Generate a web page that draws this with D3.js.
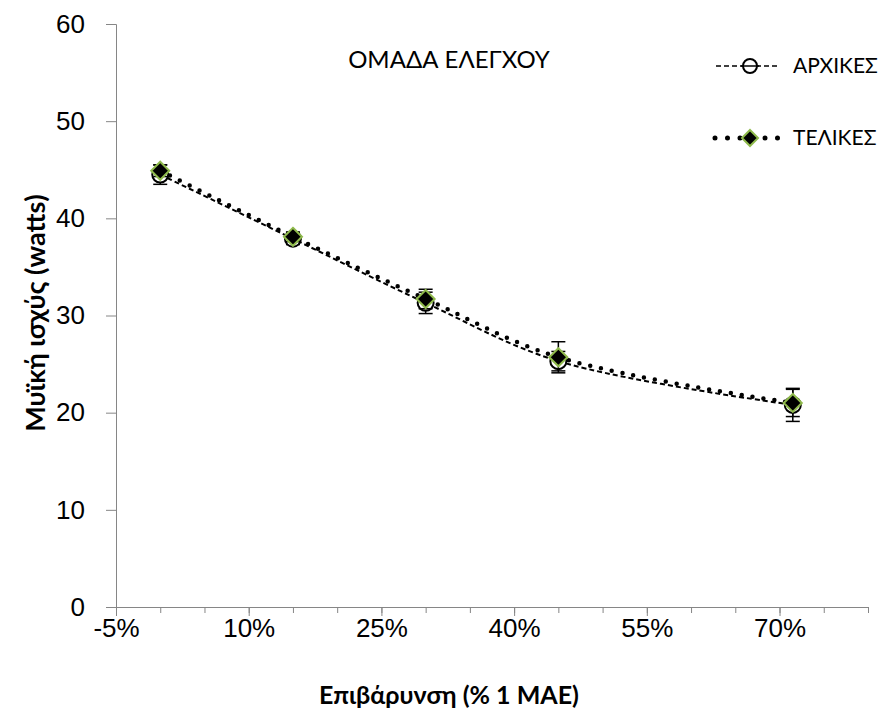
<!DOCTYPE html>
<html>
<head>
<meta charset="utf-8">
<script src="https://cdn.jsdelivr.net/npm/d3@7"></script>
<style>
  body { margin: 0; background: white; }
  svg { font-family: Lato, "Open Sans", sans-serif; }
</style>
</head>
<body>
<div id="chart"></div>
<script>
// δεδομένα (εκτίμηση από την εικόνα)
const loads = [0.00, 0.15, 0.30, 0.45, 0.715];
const initialPower = [44.5, 37.9, 31.3, 25.3, 20.8];
const initialSd = [1.0, 0.6, 1.1, 1.0, 1.7];
const finalPower = [44.9, 38.1, 31.7, 25.7, 21.0];
const finalSd = [0.6, 0.5, 1.0, 1.6, 1.4];
const xTicks = [-0.05, 0.10, 0.25, 0.40, 0.55, 0.70];
const yTicks = [0, 10, 20, 30, 40, 50, 60];
const seriesNames = ["ΑΡΧΙΚΕΣ", "ΤΕΛΙΚΕΣ"];

const W = 884, H = 715;
const svg = d3.select("#chart").append("svg").attr("width", W).attr("height", H);

const x = d3.scaleLinear().domain([-0.05, 0.80]).range([116, 868]);
const y = d3.scaleLinear().domain([0, 60]).range([607, 24]);

const axisColor = "#868686";

// Άξονας Y
const yAxis = svg.append("g").attr("transform", `translate(${x(-0.05)},0)`)
  .call(d3.axisLeft(y).tickValues(yTicks).tickSize(10).tickPadding(21));
yAxis.select(".domain").attr("stroke", axisColor);
yAxis.selectAll(".tick line").attr("stroke", axisColor);
yAxis.selectAll("text").attr("font-size", "26px").attr("fill", "#000");

// Άξονας X (μικρές υποδιαιρέσεις ανά 5%)
const minorTicks = d3.range(-0.05, 0.8001, 0.05);
const xAxisMinor = svg.append("g").attr("transform", `translate(0,${y(0)})`)
  .call(d3.axisBottom(x).tickValues(minorTicks).tickSize(6).tickFormat(""));
xAxisMinor.select(".domain").attr("stroke", axisColor);
xAxisMinor.selectAll(".tick line").attr("stroke", axisColor);
const xAxis = svg.append("g").attr("transform", `translate(0,${y(0)})`)
  .call(d3.axisBottom(x).tickValues(xTicks).tickSize(9).tickPadding(3))
xAxis.select(".domain").remove();
xAxis.selectAll(".tick line").attr("stroke", axisColor);
xAxis.selectAll("text").attr("font-size", "26px").attr("fill", "#000")
  .text(d => Math.round(d * 100) + "%");

// Τίτλοι αξόνων
svg.append("text")
  .attr("x", 449).attr("y", 704)
  .attr("text-anchor", "middle")
  .attr("font-size", "25px").attr("font-weight", "bold")
  .text("Επιβάρυνση (% 1 ΜΑΕ)");
svg.append("text")
  .attr("transform", "translate(45,313) rotate(-90)")
  .attr("text-anchor", "middle")
  .attr("font-size", "27px").attr("font-weight", "bold")
  .text("Μυϊκή ισχύς (watts)");

// Τίτλος
svg.append("text")
  .attr("x", 449).attr("y", 68)
  .attr("text-anchor", "middle")
  .attr("font-size", "24px")
  .text("ΟΜΑΔΑ ΕΛΕΓΧΟΥ");

const initData = loads.map((l, i) => ({ x: l, y: initialPower[i], sd: initialSd[i] }));
const finData = loads.map((l, i) => ({ x: l, y: finalPower[i], sd: finalSd[i] }));

const line = d3.line().x(d => x(d.x)).y(d => y(d.y)).curve(d3.curveCatmullRom.alpha(0.5));
const green = "#8fba4c";

function errorBars(data) {
  const g = svg.append("g").attr("stroke", "#000").attr("stroke-width", 1.5);
  data.forEach(d => {
    g.append("line").attr("x1", x(d.x)).attr("x2", x(d.x)).attr("y1", y(d.y - d.sd)).attr("y2", y(d.y + d.sd));
    [d.y - d.sd, d.y + d.sd].forEach(v => {
      g.append("line").attr("x1", x(d.x) - 7).attr("x2", x(d.x) + 7).attr("y1", y(v)).attr("y2", y(v));
    });
  });
}

function diamondPath(cx, cy, r) {
  return `M${cx},${cy - r}L${cx + r},${cy}L${cx},${cy + r}L${cx - r},${cy}Z`;
}

// ΑΡΧΙΚΕΣ
svg.append("path").datum(initData)
  .attr("fill", "none").attr("stroke", "#000").attr("stroke-width", 2)
  .attr("stroke-dasharray", "5,3").attr("d", line);
errorBars(initData);
svg.selectAll(".init-pt").data(initData).enter().append("circle")
  .attr("class", "init-pt")
  .attr("cx", d => x(d.x)).attr("cy", d => y(d.y)).attr("r", 8)
  .attr("fill", "white").attr("stroke", "#000").attr("stroke-width", 2);

// ΤΕΛΙΚΕΣ
svg.append("path").datum(finData)
  .attr("fill", "none").attr("stroke", "#000").attr("stroke-width", 4.5)
  .attr("stroke-linecap", "round")
  .attr("stroke-dasharray", "0,11").attr("d", line);
errorBars(finData);
svg.selectAll(".fin-pt").data(finData).enter().append("path")
  .attr("class", "fin-pt")
  .attr("d", d => diamondPath(x(d.x), y(d.y), 9))
  .attr("fill", "#000").attr("stroke", green).attr("stroke-width", 2);

// Υπόμνημα
const leg = svg.append("g");
leg.append("line").attr("x1", 716).attr("x2", 780).attr("y1", 66).attr("y2", 66)
  .attr("stroke", "#000").attr("stroke-width", 1.5).attr("stroke-dasharray", "5,3");
leg.append("circle").attr("cx", 750).attr("cy", 66).attr("r", 7)
  .attr("fill", "white").attr("stroke", "#000").attr("stroke-width", 2);
leg.append("line").attr("x1", 741).attr("x2", 759).attr("y1", 66).attr("y2", 66)
  .attr("stroke", "#000").attr("stroke-width", 1.5);
leg.append("text").attr("x", 793).attr("y", 73).attr("font-size", "21px").text(seriesNames[0]);

leg.append("line").attr("x1", 715).attr("x2", 780).attr("y1", 138).attr("y2", 138)
  .attr("stroke", "#000").attr("stroke-width", 5).attr("stroke-linecap", "round")
  .attr("stroke-dasharray", "0,12.5");
leg.append("path").attr("d", diamondPath(750, 138, 8))
  .attr("fill", "#000").attr("stroke", green).attr("stroke-width", 2);
leg.append("text").attr("x", 793).attr("y", 145).attr("font-size", "21px").text(seriesNames[1]);
</script>
</body>
</html>
